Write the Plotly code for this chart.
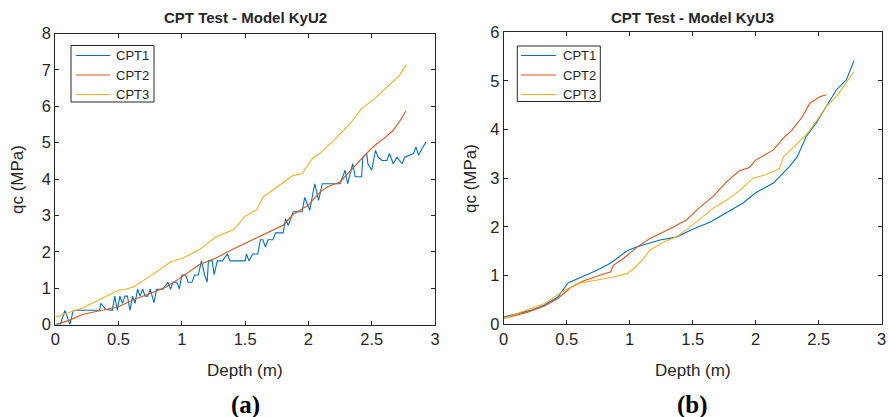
import plotly.graph_objects as go

# ---------------- Data: Model KyU2 (panel a) ----------------
a_cpt1_depth = [0.00, 0.04, 0.076, 0.116, 0.14, 0.16, 0.35, 0.36, 0.40, 0.43, 0.45, 0.47, 0.49, 0.51, 0.53,
                0.55, 0.57, 0.59, 0.61, 0.63, 0.65, 0.67, 0.69, 0.71, 0.73, 0.75, 0.78, 0.80, 0.82, 0.85,
                0.89, 0.91, 0.93, 0.96, 0.98, 1.00, 1.03, 1.05, 1.08, 1.10, 1.13, 1.155, 1.18, 1.20, 1.21,
                1.24, 1.255, 1.28, 1.32, 1.36, 1.38, 1.50, 1.51, 1.53, 1.56, 1.60, 1.62, 1.64, 1.66, 1.68,
                1.72, 1.74, 1.80, 1.82, 1.84, 1.86, 1.88, 1.95, 1.97, 2.01, 2.05, 2.08, 2.11, 2.25, 2.29,
                2.31, 2.35, 2.37, 2.42, 2.43, 2.46, 2.47, 2.50, 2.53, 2.55, 2.58, 2.62, 2.64, 2.67, 2.70,
                2.74, 2.76, 2.83, 2.85, 2.87, 2.90, 2.93]
a_cpt1_qc = [0.00, 0.00, 0.39, 0.00, 0.37, 0.39, 0.39, 0.58, 0.41, 0.39, 0.39, 0.78, 0.39, 0.78, 0.58,
             0.78, 0.78, 0.39, 0.78, 0.58, 0.97, 0.78, 0.97, 0.78, 0.78, 0.97, 0.60, 0.97, 0.97, 0.97,
             1.16, 0.97, 1.16, 1.16, 0.98, 1.36, 1.36, 1.16, 1.16, 1.36, 1.36, 1.75, 1.36, 1.17, 1.75,
             1.75, 1.37, 1.75, 1.75, 1.94, 1.75, 1.75, 1.94, 1.75, 1.94, 1.94, 2.33, 2.33, 2.13, 2.33,
             2.33, 2.52, 2.52, 2.91, 2.72, 2.91, 3.10, 3.10, 3.49, 3.14, 3.87, 3.41, 3.87, 3.87, 4.24,
             3.87, 4.42, 4.06, 4.06, 4.60, 4.70, 4.42, 4.24, 4.79, 4.60, 4.51, 4.51, 4.70, 4.42, 4.60,
             4.42, 4.60, 4.70, 4.88, 4.65, 4.85, 5.02]

a_cpt2_depth = [0.00, 0.10, 0.22, 0.35, 0.50, 0.62, 0.75, 0.88, 1.00, 1.14, 1.27, 1.41, 1.54, 1.67, 1.80,
                1.88, 1.93, 2.00, 2.09, 2.16, 2.25, 2.33, 2.41, 2.48, 2.54, 2.61, 2.67, 2.72, 2.77]
a_cpt2_qc = [0.00, 0.10, 0.28, 0.38, 0.49, 0.69, 0.85, 1.04, 1.31, 1.65, 1.83, 2.08, 2.29, 2.52, 2.73,
             3.03, 3.14, 3.28, 3.64, 3.80, 3.92, 4.22, 4.51, 4.78, 4.97, 5.15, 5.34, 5.58, 5.87]

a_cpt3_depth = [0.00, 0.10, 0.22, 0.35, 0.50, 0.55, 0.62, 0.75, 0.91, 1.01, 1.14, 1.27, 1.41, 1.50, 1.59,
                1.64, 1.75, 1.88, 1.95, 2.04, 2.09, 2.20, 2.33, 2.42, 2.51, 2.62, 2.72, 2.77]
a_cpt3_qc = [0.20, 0.32, 0.46, 0.69, 0.94, 0.96, 1.04, 1.33, 1.72, 1.83, 2.06, 2.41, 2.61, 2.98, 3.15,
             3.50, 3.78, 4.10, 4.15, 4.60, 4.70, 5.06, 5.52, 5.94, 6.17, 6.53, 6.85, 7.13]

# ---------------- Data: Model KyU3 (panel b) ----------------
b_cpt1_depth = [0.00, 0.22, 0.32, 0.43, 0.51, 0.64, 0.74, 0.85, 0.98, 1.06, 1.24, 1.37, 1.50, 1.64, 1.77,
                1.90, 2.00, 2.14, 2.27, 2.33, 2.40, 2.48, 2.56, 2.64, 2.72, 2.78]
b_cpt1_qc = [0.15, 0.29, 0.39, 0.56, 0.85, 0.99, 1.11, 1.26, 1.51, 1.59, 1.73, 1.79, 1.95, 2.10, 2.30,
             2.49, 2.70, 2.90, 3.24, 3.44, 3.85, 4.13, 4.47, 4.81, 5.02, 5.41]

b_cpt2_depth = [0.00, 0.19, 0.32, 0.43, 0.53, 0.64, 0.77, 0.85, 0.87, 0.95, 1.06, 1.16, 1.32, 1.45, 1.56,
                1.66, 1.77, 1.87, 1.95, 2.00, 2.14, 2.22, 2.29, 2.37, 2.43, 2.51, 2.56]
b_cpt2_qc = [0.12, 0.25, 0.37, 0.53, 0.75, 0.90, 1.01, 1.08, 1.21, 1.35, 1.59, 1.76, 1.96, 2.14, 2.41,
             2.62, 2.93, 3.15, 3.22, 3.37, 3.58, 3.82, 3.99, 4.26, 4.54, 4.67, 4.71]

b_cpt3_depth = [0.00, 0.19, 0.32, 0.46, 0.59, 0.72, 0.85, 0.98, 1.03, 1.11, 1.16, 1.27, 1.37, 1.48, 1.56,
                1.66, 1.77, 1.87, 1.98, 2.08, 2.19, 2.22, 2.29, 2.40, 2.48, 2.56, 2.66, 2.78]
b_cpt3_qc = [0.12, 0.29, 0.42, 0.66, 0.84, 0.90, 0.96, 1.04, 1.14, 1.35, 1.52, 1.69, 1.79, 2.00, 2.17,
             2.38, 2.55, 2.74, 3.00, 3.07, 3.20, 3.44, 3.61, 3.89, 4.16, 4.47, 4.74, 5.19]

names = ["CPT1", "CPT2", "CPT3"]
colors = ["#0072BD", "#D95319", "#EDB120"]

W, H = 890, 417
def px(x): return x / W
def py(y): return 1 - y / H

fig = go.Figure()
panel_a = [(a_cpt1_depth, a_cpt1_qc), (a_cpt2_depth, a_cpt2_qc), (a_cpt3_depth, a_cpt3_qc)]
panel_b = [(b_cpt1_depth, b_cpt1_qc), (b_cpt2_depth, b_cpt2_qc), (b_cpt3_depth, b_cpt3_qc)]
for i, (d, q) in enumerate(panel_a):
    fig.add_trace(go.Scatter(x=d, y=q, mode="lines", name=names[i], line=dict(color=colors[i], width=1.1),
                             xaxis="x", yaxis="y", showlegend=False))
for i, (d, q) in enumerate(panel_b):
    fig.add_trace(go.Scatter(x=d, y=q, mode="lines", name=names[i], line=dict(color=colors[i], width=1.1),
                             xaxis="x2", yaxis="y2", showlegend=False))

font_family = "Liberation Sans, Arial, sans-serif"
axis_common = dict(showline=True, linecolor="#262626", linewidth=1, mirror="ticks", ticks="inside",
                   ticklen=4, tickcolor="#262626", showgrid=False, zeroline=False, automargin=False,
                   tickfont=dict(family=font_family, size=16.5, color="#262626"))

fig.update_layout(
    width=W, height=H, margin=dict(l=0, r=0, t=0, b=0),
    paper_bgcolor="white", plot_bgcolor="white",
    xaxis=dict(domain=[px(55.3), px(435)], range=[0, 3], dtick=0.5, anchor="y", **axis_common),
    yaxis=dict(domain=[py(324.5), py(33.5)], range=[0, 8], dtick=1, anchor="x", **axis_common),
    xaxis2=dict(domain=[px(503.7), px(881.7)], range=[0, 3], dtick=0.5, anchor="y2", **axis_common),
    yaxis2=dict(domain=[py(324.3), py(32)], range=[0, 6], dtick=1, anchor="x2", **axis_common),
    showlegend=False,
)

ann = []
shapes = []
for cx, title, lab in [(245, "CPT Test - Model KyU2", "(a)"), (692.7, "CPT Test - Model KyU3", "(b)")]:
    ann.append(dict(x=px(cx), y=py(17.5), xref="paper", yref="paper", text="<b>" + title + "</b>",
                    showarrow=False, font=dict(family=font_family, size=15, color="#262626"),
                    xanchor="center", yanchor="middle"))
    ann.append(dict(x=px(cx), y=py(370), xref="paper", yref="paper", text="Depth (m)",
                    showarrow=False, font=dict(family=font_family, size=17, color="#262626"),
                    xanchor="center", yanchor="middle"))
    ann.append(dict(x=px(cx), y=py(405), xref="paper", yref="paper", text="<b>" + lab + "</b>",
                    showarrow=False, font=dict(family="Liberation Serif, Times New Roman, serif", size=25, color="black"),
                    xanchor="center", yanchor="middle"))
for cx, cy in [(17, 180), (470, 178)]:
    ann.append(dict(x=px(cx), y=py(cy), xref="paper", yref="paper", text="qc (MPa)", textangle=-90,
                    showarrow=False, font=dict(family=font_family, size=17, color="#262626"),
                    xanchor="center", yanchor="middle"))

# legends (box, swatches and labels) for both panels
for (bx0, bx1, by0, by1, lx0, lx1, tx) in [(71, 154, 45.5, 102, 76, 110, 114),
                                            (517.3, 600.3, 46, 101.5, 521, 556, 560.5)]:
    shapes.append(dict(type="rect", xref="paper", yref="paper", x0=px(bx0), x1=px(bx1), y0=py(by1), y1=py(by0),
                       line=dict(color="#262626", width=1), fillcolor="white", layer="above"))
    for i, ly in enumerate([55.5, 75, 94.5]):
        shapes.append(dict(type="line", xref="paper", yref="paper", x0=px(lx0), x1=px(lx1), y0=py(ly), y1=py(ly),
                           line=dict(color=colors[i], width=1.1), layer="above"))
        ann.append(dict(x=px(tx), y=py(ly), xref="paper", yref="paper", text=names[i], showarrow=False,
                        font=dict(family=font_family, size=13, color="#262626"),
                        xanchor="left", yanchor="middle"))

fig.update_layout(annotations=ann, shapes=shapes)

fig.write_html("out.html")
